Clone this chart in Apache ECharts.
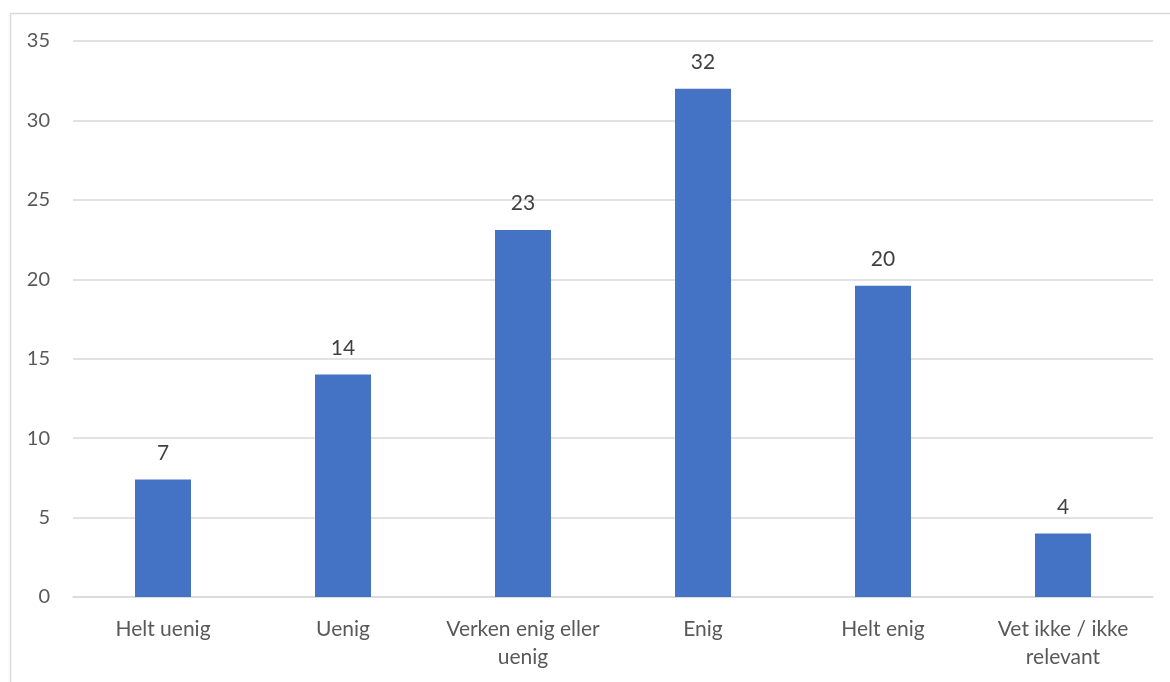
<!DOCTYPE html>
<html>
<head>
<meta charset="utf-8">
<script src="https://cdn.jsdelivr.net/npm/echarts@6/dist/echarts.min.js"></script>
<style>
html,body{margin:0;padding:0;background:#fff;}
#chart{width:1170px;height:682px;}
</style>
</head>
<body>
<div id="chart"></div>
<script>
const categories = ['Helt uenig', 'Uenig', 'Verken enig eller\nuenig', 'Enig', 'Helt enig', 'Vet ikke / ikke\nrelevant'];
const values = [7.4, 14.0, 23.1, 32.0, 19.6, 4.0];
const yTicks = { min: 0, max: 35, interval: 5 };

const chart = echarts.init(document.getElementById('chart'), null, { renderer: 'canvas' });
const font = 'Lato, "Open Sans", sans-serif';
chart.setOption({
  animation: false,
  backgroundColor: '#ffffff',
  graphic: [{
    type: 'rect',
    left: 8, top: 11,
    shape: { width: 1175, height: 690 },
    style: { fill: 'none', stroke: '#d9d9d9', lineWidth: 1.5 },
    z: -1
  }],
  grid: { left: 73, right: 17, top: 41, bottom: 85, containLabel: false },
  xAxis: {
    type: 'category',
    data: categories,
    axisLine: { show: true, lineStyle: { color: '#d9d9d9', width: 1.5 } },
    axisTick: { show: false },
    axisLabel: { interval: 0, color: '#595959', fontSize: 21, fontFamily: font, margin: 18, lineHeight: 28 }
  },
  yAxis: {
    type: 'value',
    min: yTicks.min, max: yTicks.max, interval: yTicks.interval,
    axisLine: { show: false },
    axisTick: { show: false },
    splitLine: { lineStyle: { color: '#d9d9d9', width: 1.5 } },
    axisLabel: { color: '#595959', fontSize: 20, fontFamily: font, margin: 23 }
  },
  series: [{
    type: 'bar',
    data: values,
    barWidth: 56,
    itemStyle: { color: '#4472c4' },
    label: {
      show: true, position: 'top', distance: 16,
      color: '#404040', fontSize: 21, fontFamily: font,
      formatter: p => Math.round(p.value)
    }
  }]
});
</script>
</body>
</html>
